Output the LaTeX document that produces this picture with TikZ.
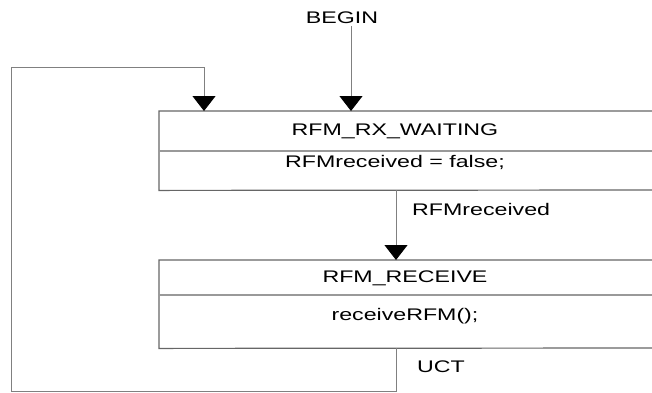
\documentclass[tikz,border=0pt]{standalone}
\usepackage{fontspec}
\setmainfont{Liberation Sans}[FakeStretch=1.38]
\usepackage{tikz}
\usetikzlibrary{arrows.meta, positioning, calc}

\begin{document}
\begin{tikzpicture}[
    x=1pt, y=-1pt,
    state_box/.style={
        rectangle,
        anchor=north west,
        minimum width=700pt,
        inner sep=0pt
    },
    box_edge/.style={
        draw=black!60,
        line width=1.2pt
    },
    state_text/.style={
        font=\fontsize{16.8}{19}\selectfont,
        inner sep=2pt
    },
    divider/.style={
        draw=black!40,
        line width=1.2pt
    },
    flow/.style={
        draw=black!50,
        line width=0.9pt,
        -{Triangle[width=23pt, length=15pt, black]}
    },
    edge_label/.style={
        font=\fontsize{16.8}{19}\selectfont,
        anchor=west,
        inner sep=0pt
    }
]
    \useasboundingbox (0,0) rectangle (652,392);

    % States (their right side runs off the page)
    \node[state_box, minimum height=79pt] (waiting) at (159,111) {};
    \draw[box_edge] (652,111) -- (waiting.north west) -- (waiting.south west) -- (652,190);
    \draw[divider] (waiting.west |- 0,151) -- (652,151);
    \node[state_text] (waitName) at (395,131) {RFM\_RX\_WAITING};
    \node[state_text] (waitAction) at (395,162) {RFMreceived = false;};

    \node[state_box, minimum height=88pt] (receive) at (159,260) {};
    \draw[box_edge] (652,260) -- (receive.north west) -- (receive.south west) -- (652,348);
    \draw[divider] (receive.west |- 0,295) -- (652,295);
    \node[state_text] (recvName) at (405,278) {RFM\_RECEIVE};
    \node[state_text] (recvAction) at (405,316) {receiveRFM();};

    % Entry
    \node[state_text] (begin) at (342,18) {BEGIN};
    \draw[flow] (begin.south -| 351,0) -- (waiting.north -| 351,0);

    % Transitions
    \draw[flow] (waiting.south -| 396,0) -- (receive.north -| 396,0);
    \node[edge_label] (lblReceived) at (412,209) {RFMreceived};

    \draw[flow] (receive.south -| 396,0) -- (396,391) -- (11,391)
        -- (11,67) -- (204,67) -- (waiting.north -| 204,0);
    \node[edge_label] (lblUct) at (417,367) {UCT};
\end{tikzpicture}
\end{document}
